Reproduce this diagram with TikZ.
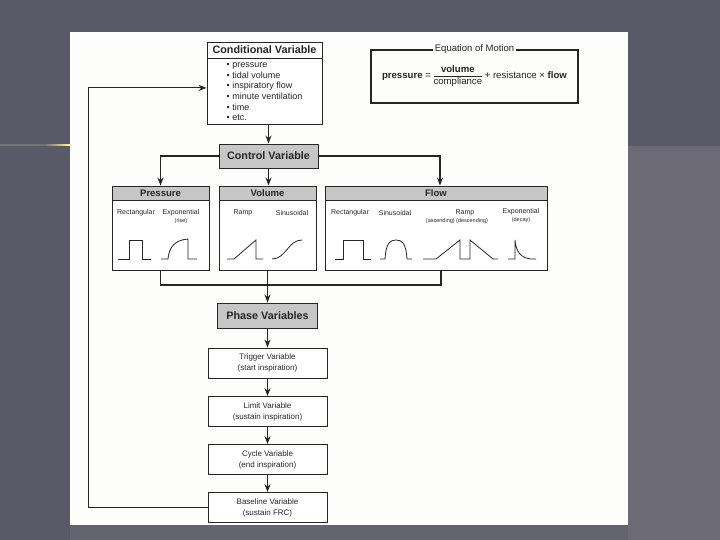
\documentclass[tikz,border=0pt]{standalone}
\usepackage{fontspec}
\setmainfont{Liberation Sans}
\usetikzlibrary{arrows.meta,positioning}
\definecolor{slide}{RGB}{90,90,102}
\definecolor{slidelow}{RGB}{107,106,117}
\definecolor{paper}{RGB}{253,253,252}
\definecolor{stipple}{RGB}{198,198,198}
\definecolor{ink}{RGB}{38,38,38}
\setlength{\arrayrulewidth}{0.8pt}

\begin{document}
\begin{tikzpicture}
    [x=1pt,y=-1pt,
     every node/.style={inner sep=0pt,text=ink,font=\fontsize{8}{11}\selectfont},
     box/.style={draw=ink,line width=0.9pt,fill=white,align=center},
     head/.style={box,fill=stipple,font=\fontsize{10.8}{13}\selectfont\bfseries},
     tab/.style={box,fill=stipple,font=\fontsize{9.5}{11}\selectfont\bfseries,minimum height=14pt},
     lbl/.style={font=\fontsize{7}{8}\selectfont},
     sub/.style={font=\fontsize{5.5}{6}\selectfont},
     wave/.style={draw=ink,line width=0.8pt},
     link/.style={draw=ink,line width=1.1pt},
     arr/.style={link,-{Stealth[length=8pt,width=6pt]}}]
    \useasboundingbox (0,0) rectangle (720,540);
    \fill[slide] (0,0) rectangle (720,540);
    \fill[slidelow] (628,146) rectangle (720,540);
    \fill[slidelow!60!slide] (70,525) rectangle (628,540);
    \fill[gray!70!slide] (0,144.5) rectangle (45,146);
    \shade[left color=gray!70!slide,right color=yellow!50!white] (45,144.5) rectangle (70,146);
    \fill[paper] (70,32) rectangle (628,525);

    \node[box,font=\fontsize{10.8}{13}\selectfont\bfseries,minimum width=115pt,minimum height=16pt] (condhead) at (264.5,50) {Conditional Variable};
    \node[box,align=left,font=\fontsize{9}{10.6}\selectfont,minimum width=115pt,minimum height=66pt,below=0pt of condhead] (cond)
      {• pressure\\• tidal volume\\• inspiratory flow\\• minute ventilation\\• time\\• etc.};
    \node[draw=ink,line width=1.8pt,minimum width=207pt,minimum height=53pt,font=\fontsize{9.6}{11.5}\selectfont] (eq) at (474.5,76.5)
      {\textbf{pressure} = \begin{tabular}{@{}c@{}}\textbf{volume}\\\hline compliance\end{tabular} + resistance × \textbf{flow}};
    \node[fill=paper,inner xsep=2pt,font=\fontsize{9.5}{11}\selectfont] (eqtitle) at (eq.north) {Equation of Motion};

    \node[head,minimum width=99pt,minimum height=24pt] (ctrl) at (268.5,156) {Control Variable};
    \node[tab,minimum width=97pt] (presshead) at (160.5,193) {Pressure};
    \node[tab,minimum width=97pt] (volhead) at (267.5,193) {Volume};
    \node[tab,minimum width=222pt] (flowhead) at (436,193) {Flow};
    \node[box,minimum width=97pt,minimum height=70pt,below=0pt of presshead] (press) {};
    \node[box,minimum width=97pt,minimum height=70pt,below=0pt of volhead] (vol) {};
    \node[box,minimum width=222pt,minimum height=70pt,below=0pt of flowhead] (flow) {};

    \node[lbl] (prect) at (136,213) {Rectangular};
    \node[lbl] (pexp) at (181,213) {Exponential};
    \node[sub] (prise) at (181,221.5) {(rise)};
    \node[lbl] (vramp) at (243,213) {Ramp};
    \node[lbl] (vsin) at (292,213) {Sinusoidal};
    \node[lbl] (frect) at (350,213) {Rectangular};
    \node[lbl] (fsin) at (395,213) {Sinusoidal};
    \node[lbl] (framp) at (465,213) {Ramp};
    \node[sub] (fdir) at (457,221.5) {(ascending) (descending)};
    \node[lbl] (fexp) at (521,212) {Exponential};
    \node[sub] (fdecay) at (521,220.5) {(decay)};

    \draw[wave] (118,259) -- (129,259) -- (129,240) -- (142,240) -- (142,259) -- (151,259);
    \draw[wave] (161,259) -- (168,259) .. controls (169,247) and (175,240) .. (188,239) -- (188,259) -- (197,259);
    \draw[wave] (227,259) -- (234,259) -- (256,240) -- (256,259) -- (263,259);
    \draw[wave] (272,259) .. controls (286,259) and (288,240) .. (302,240);
    \draw[wave] (335,259) -- (343,259) -- (343,240) -- (363,240) -- (363,259) -- (371,259);
    \draw[wave] (380,259) -- (385,259) .. controls (386,243) and (390,240) .. (396,240) .. controls (402,240) and (406,243) .. (407,259) -- (412,259);
    \draw[wave] (423,259) -- (436,259) -- (460,240) -- (460,259) -- (465,259);
    \draw[wave] (465,259) -- (470,259) -- (470,240) -- (493,259) -- (498,259);
    \draw[wave] (508,259) -- (515,259) -- (515,240) .. controls (516,252) and (521,258) .. (531,259) -- (536,259);

    \node[head,minimum width=100pt,minimum height=25pt] (phase) at (267.5,315.5) {Phase Variables};
    \foreach \name/\y/\title/\what in {trig/363/Trigger/start inspiration, lim/411.5/Limit/sustain inspiration,
                                       cyc/459.5/Cycle/end inspiration, base/507.5/Baseline/sustain FRC}
      \node[box,minimum width=119pt,minimum height=30pt] (\name) at (267.5,\y) {\title\ Variable\\(\what)};

    \coordinate (merge) at (267.5,285);
    \draw[arr] (cond.south -| ctrl.north) -- (ctrl.north);
    \draw[arr] (ctrl.west) -| (presshead.north);
    \draw[arr] (ctrl.south) -- (ctrl.south |- volhead.north);
    \draw[arr] (ctrl.east) -| ([xshift=4pt]flowhead.north);
    \draw[link] (press.south) |- (merge) -| ([xshift=5pt]flow.south);
    \draw[arr] (vol.south) -- (phase);
    \foreach \from/\to in {phase/trig, trig/lim, lim/cyc, cyc/base}
      \draw[arr] (\from) -- (\to);
    \draw[arr] (base.west) -| ([xshift=-118pt,yshift=4pt]cond.west) -- ([yshift=4pt]cond.west);
\end{tikzpicture}
\end{document}
